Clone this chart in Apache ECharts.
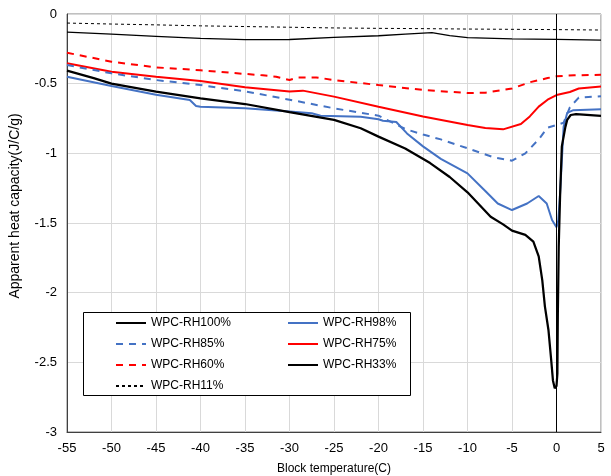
<!DOCTYPE html>
<html>
<head>
<meta charset="utf-8">
<script src="https://cdn.jsdelivr.net/npm/echarts@6/dist/echarts.min.js"></script>
<style>html,body{margin:0;padding:0;background:#fff}#c{width:611px;height:476px}</style>
</head>
<body>
<div id="c"></div>
<script>
// Tick configuration
var xMin = -55, xMax = 5, xStep = 5;
var yMin = -3, yMax = 0, yStep = 0.5;

// Series data: [temperature, apparent heat capacity]
var rh100 = [[-55,-0.407],[-52,-0.46],[-50,-0.5],[-45,-0.557],[-40,-0.605],[-35,-0.646],[-30,-0.705],[-25,-0.76],[-22,-0.82],[-20,-0.88],[-17,-0.965],[-14.2,-1.07],[-12,-1.17],[-10,-1.28],[-7.4,-1.455],[-6,-1.51],[-5,-1.555],[-3.5,-1.585],[-2.6,-1.634],[-2,-1.74],[-1.6,-1.91],[-1.3,-2.1],[-0.9,-2.27],[-0.6,-2.48],[-0.4,-2.63],[-0.2,-2.686],[0,-2.67],[0.1,-2.58],[0.15,-2.15],[0.25,-1.67],[0.4,-1.31],[0.6,-0.95],[1.0,-0.81],[1.2,-0.76],[1.6,-0.725],[2.2,-0.718],[5,-0.732]];
var rh98 = [[-55,-0.45],[-50,-0.517],[-45,-0.58],[-41.2,-0.617],[-40.5,-0.66],[-40,-0.665],[-35,-0.677],[-30,-0.70],[-27.5,-0.712],[-26.5,-0.73],[-22,-0.737],[-20,-0.755],[-19.5,-0.766],[-18,-0.775],[-16.8,-0.857],[-15,-0.95],[-13,-1.04],[-10,-1.144],[-8,-1.27],[-6.6,-1.36],[-5,-1.407],[-3.3,-1.36],[-2,-1.306],[-1.1,-1.36],[-0.5,-1.478],[0,-1.53],[0.2,-1.48],[0.4,-1.29],[0.6,-1.05],[0.8,-0.81],[1.2,-0.71],[1.9,-0.69],[5,-0.684]];
var rh85 = [[-55,-0.366],[-50,-0.426],[-45,-0.474],[-40,-0.51],[-35,-0.555],[-30,-0.615],[-25,-0.677],[-20,-0.73],[-17,-0.825],[-15,-0.865],[-13,-0.9],[-10,-0.964],[-7,-1.03],[-5,-1.053],[-3.5,-1.0],[-2,-0.9],[-1,-0.815],[0,-0.797],[0.8,-0.78],[1.5,-0.67],[2.5,-0.6],[5,-0.59]];
var rh75 = [[-55,-0.354],[-50,-0.414],[-45,-0.45],[-40,-0.481],[-35,-0.526],[-30,-0.557],[-28.5,-0.55],[-25,-0.593],[-20,-0.665],[-15,-0.735],[-10,-0.797],[-8,-0.818],[-6,-0.828],[-4,-0.79],[-3,-0.735],[-2,-0.665],[-1,-0.615],[0,-0.582],[1.5,-0.56],[2.5,-0.535],[5,-0.52]];
var rh60 = [[-55,-0.278],[-50,-0.342],[-45,-0.383],[-40,-0.404],[-35,-0.43],[-33,-0.44],[-31.5,-0.45],[-30,-0.474],[-29,-0.455],[-27,-0.455],[-25,-0.474],[-20,-0.51],[-15,-0.545],[-10,-0.567],[-8,-0.565],[-5,-0.535],[-3,-0.49],[-1,-0.46],[0,-0.447],[2,-0.44],[5,-0.436]];
var rh33 = [[-55,-0.13],[-50,-0.145],[-45,-0.16],[-40,-0.175],[-35,-0.184],[-30,-0.183],[-25,-0.168],[-20,-0.156],[-17,-0.145],[-14,-0.134],[-12,-0.155],[-10,-0.17],[-5,-0.178],[0,-0.182],[5,-0.187]];
var rh11 = [[-55,-0.065],[-50,-0.072],[-45,-0.078],[-40,-0.085],[-35,-0.09],[-30,-0.095],[-25,-0.1],[-20,-0.103],[-15,-0.105],[-10,-0.108],[-5,-0.11],[0,-0.112],[5,-0.115]];

var names = ['WPC-RH100%','WPC-RH98%','WPC-RH85%','WPC-RH75%','WPC-RH60%','WPC-RH33%','WPC-RH11%'];
var xTitle = 'Block temperature(C)';
var yTitle = 'Apparent heat capacity(J/C/g)';

function ser(name, data, color, width, type, z) {
  return {
    name: name, type: 'line', data: data, symbol: 'none', showSymbol: false,
    smooth: false, z: z || 2,
    lineStyle: { color: color, width: width, type: type },
    itemStyle: { color: color }
  };
}

var s11 = ser(names[6], rh11, '#000000', 1, [3, 3]);
s11.markLine = {
  silent: true, symbol: 'none', animation: false,
  label: { show: false },
  lineStyle: { color: '#000000', width: 1, type: 'solid' },
  data: [{ xAxis: 0 }]
};

var legendCommon = {
  z: 10, orient: 'vertical', padding: 0, itemWidth: 30, itemHeight: 14, itemGap: 9,
  itemStyle: { opacity: 0, borderWidth: 0 },
  textStyle: { fontSize: 12, color: '#000', fontFamily: 'Liberation Sans' }
};

var chart = echarts.init(document.getElementById('c'), null, { renderer: 'canvas' });
chart.setOption({
  animation: false,
  backgroundColor: '#ffffff',
  textStyle: { fontFamily: 'Liberation Sans' },
  grid: { left: 67, right: 10, top: 14, bottom: 44, show: true, borderColor: '#808080', borderWidth: 1, containLabel: false, outerBoundsMode: 'none' },
  xAxis: {
    type: 'value', min: xMin, max: xMax, interval: xStep,
    name: xTitle, nameLocation: 'middle', nameGap: 31,
    nameTextStyle: { fontSize: 12, color: '#000', fontFamily: 'Liberation Sans' },
    axisLine: { show: true, onZero: false, lineStyle: { color: '#404040', width: 1 } },
    axisTick: { show: false },
    axisLabel: { fontSize: 13, color: '#000', margin: 10 },
    splitLine: { show: true, lineStyle: { color: '#d9d9d9', width: 1 } }
  },
  yAxis: {
    type: 'value', min: yMin, max: yMax, interval: yStep,
    name: yTitle, nameLocation: 'middle', nameGap: 45, nameRotate: 90,
    nameTextStyle: { fontSize: 14, color: '#000', fontFamily: 'Liberation Sans', padding: [0, 0, 0, 34] },
    axisLine: { show: true, onZero: false, lineStyle: { color: '#404040', width: 1 } },
    axisTick: { show: false },
    axisLabel: { fontSize: 13, color: '#000', margin: 10 },
    splitLine: { show: true, lineStyle: { color: '#d9d9d9', width: 1 } }
  },
  graphic: [{
    type: 'rect', z: 8, left: 83, top: 312,
    shape: { width: 327, height: 83 },
    style: { fill: '#ffffff', stroke: '#000000', lineWidth: 1 }
  }],
  legend: [
    Object.assign({}, legendCommon, { left: 115, top: 317, data: [names[0], names[2], names[4], names[6]] }),
    Object.assign({}, legendCommon, { left: 287, top: 317, data: [names[1], names[3], names[5]] })
  ],
  series: [
    s11,
    ser(names[5], rh33, '#000000', 1.3, 'solid'),
    ser(names[4], rh60, '#ff0000', 2, [7, 6]),
    ser(names[3], rh75, '#ff0000', 2, 'solid'),
    ser(names[2], rh85, '#4472c4', 2, [7, 6]),
    ser(names[1], rh98, '#4472c4', 2, 'solid'),
    ser(names[0], rh100, '#000000', 2.25, 'solid', 3)
  ]
});
</script>
</body>
</html>
